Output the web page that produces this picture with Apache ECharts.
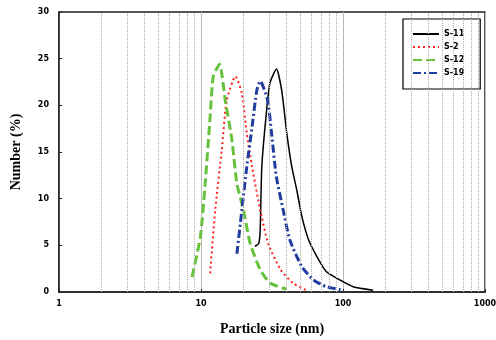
<!DOCTYPE html>
<html>
<head>
<meta charset="utf-8">
<script src="https://cdn.jsdelivr.net/npm/echarts@6/dist/echarts.min.js"></script>
<style>
  html, body { margin: 0; padding: 0; background: #fff; }
  #main { width: 496px; height: 340px; }
</style>
</head>
<body>
<div id="main"></div>
<script>
// particle size (nm) and number (%)
var s11Size = [24.0, 25.5, 26.1, 26.8, 28.7, 30.6, 34.0, 37.0, 40.2, 43.6, 47.3, 51.3, 57.2, 65.5, 76.2, 94.9, 118, 163];
var s11Val  = [4.9, 5.2, 6.6, 13.4, 18.8, 22.4, 23.9, 21.6, 17.0, 13.4, 10.9, 8.1, 5.6, 3.8, 2.2, 1.3, 0.57, 0.2];

var s2Size = [11.6, 12.6, 14.0, 15.2, 17.5, 19.4, 21.0, 22.9, 26.1, 29.7, 36.3, 44.6, 55];
var s2Val  = [2.0, 8.8, 15.2, 20.6, 23.1, 21.3, 17.0, 13.4, 8.8, 5.2, 2.4, 0.93, 0.2];

var s12Size = [8.65, 9.9, 10.7, 11.6, 12.2, 13.5, 14.8, 16.5, 17.9, 19.9, 22.2, 26.1, 30.6, 40];
var s12Val  = [1.6, 5.9, 11.6, 18.8, 23.1, 24.4, 20.6, 16.3, 11.6, 8.8, 5.2, 2.4, 0.96, 0.3];

var s19Size = [17.9, 19.4, 21.0, 22.9, 24.7, 26.1, 29.4, 31.4, 33.9, 37.9, 42.2, 51.3, 61.9, 76.2, 100];
var s19Val  = [4.1, 8.8, 13.4, 17.7, 21.6, 22.6, 20.6, 17.0, 12.4, 8.8, 5.6, 2.7, 1.3, 0.57, 0.2];

var minorGrid = [2, 3, 4, 5, 6, 7, 8, 9, 20, 30, 40, 50, 60, 70, 80, 90, 200, 300, 400, 500, 600, 700, 800, 900];

function pairs(xs, ys) {
  return xs.map(function (x, i) { return [x, ys[i]]; });
}

var chart = echarts.init(document.getElementById('main'));
var tickFont = { color: '#000', fontFamily: 'DejaVu Sans', fontWeight: 'bold', fontSize: 8 };

chart.setOption({
  animation: false,
  backgroundColor: '#fff',
  grid: {
    left: 59, right: 11, top: 12, bottom: 48,
    outerBoundsMode: 'none', containLabel: false,
    show: true, borderColor: '#222', borderWidth: 1.5
  },
  legend: {
    orient: 'vertical',
    left: 403, top: 19,
    padding: [11, 16, 12, 9],
    itemWidth: 26, itemHeight: 8, itemGap: 5,
    backgroundColor: '#fff',
    borderColor: '#000', borderWidth: 1.2,
    itemStyle: { color: 'rgba(0,0,0,0)', borderWidth: 0 },
    textStyle: { color: '#000', fontFamily: 'DejaVu Sans', fontWeight: 'bold', fontSize: 8 },
    data: ['S-11', 'S-2', 'S-12', 'S-19']
  },
  xAxis: {
    type: 'log', logBase: 10, min: 1, max: 1000,
    name: 'Particle size (nm)', nameLocation: 'middle', nameGap: 30,
    nameTextStyle: { color: '#000', fontFamily: 'Liberation Serif', fontWeight: 'bold', fontSize: 14 },
    axisLine: { lineStyle: { color: '#222', width: 1.5 } },
    axisTick: { inside: true, length: 3, lineStyle: { color: '#222' } },
    axisLabel: Object.assign({ margin: 8, formatter: function (v) { return String(v); } }, tickFont),
    splitLine: { show: true, lineStyle: { color: '#bbb', width: 1 } }
  },
  yAxis: {
    type: 'value', min: 0, max: 30, interval: 5,
    name: 'Number (%)', nameLocation: 'middle', nameGap: 36,
    nameTextStyle: { color: '#000', fontFamily: 'Liberation Serif', fontWeight: 'bold', fontSize: 14 },
    axisLine: { show: true, lineStyle: { color: '#222', width: 1.5 } },
    axisTick: { show: true, inside: true, length: 3, lineStyle: { color: '#222' } },
    axisLabel: Object.assign({ margin: 10 }, tickFont),
    splitLine: { show: false }
  },
  series: [
    {
      name: 'grid', type: 'line', data: [], silent: true,
      markLine: {
        silent: true, symbol: 'none', label: { show: false },
        lineStyle: { color: '#aaa', type: 'dotted', width: 1 },
        data: minorGrid.map(function (v) { return { xAxis: v }; })
      }
    },
    {
      name: 'S-11', type: 'line', smooth: 0.2, symbol: 'none',
      data: pairs(s11Size, s11Val),
      itemStyle: { color: '#000' },
      lineStyle: { color: '#000', width: 1.5, type: 'solid' }
    },
    {
      name: 'S-2', type: 'line', smooth: 0.2, symbol: 'none',
      data: pairs(s2Size, s2Val),
      itemStyle: { color: '#ff2020' },
      lineStyle: { color: '#ff2020', width: 2, type: [2, 3] }
    },
    {
      name: 'S-12', type: 'line', smooth: 0.2, symbol: 'none',
      data: pairs(s12Size, s12Val),
      itemStyle: { color: '#66c23c' },
      lineStyle: { color: '#66c23c', width: 3, type: [9, 4] }
    },
    {
      name: 'S-19', type: 'line', smooth: 0.2, symbol: 'none',
      data: pairs(s19Size, s19Val),
      itemStyle: { color: '#1f3d9e' },
      lineStyle: { color: '#1f3d9e', width: 3, type: [8, 3, 2, 3] }
    }
  ]
});
</script>
</body>
</html>
